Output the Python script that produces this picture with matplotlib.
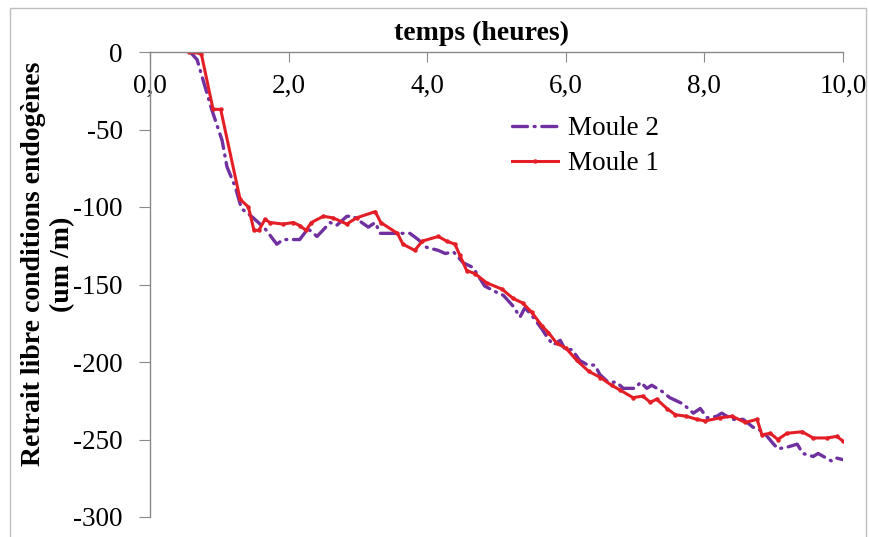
import matplotlib
matplotlib.use("Agg")
import matplotlib.pyplot as plt
from matplotlib.patches import Rectangle
from matplotlib.ticker import FuncFormatter

plt.rcParams["font.family"] = ["Liberation Serif", "DejaVu Serif"]

# Moule 1 (red, solid)
t1 = [0.56, 0.74, 0.91, 1.02, 1.30, 1.42, 1.50, 1.57, 1.66, 1.73, 1.92, 2.07, 2.16, 2.25,
      2.33, 2.50, 2.64, 2.84, 2.98, 3.25, 3.33, 3.57, 3.65, 3.82, 3.93, 4.16, 4.28, 4.40,
      4.47, 4.57, 4.69, 4.86, 5.08, 5.24, 5.38, 5.51, 5.66, 5.75, 5.87, 6.00, 6.16, 6.33,
      6.50, 6.66, 6.78, 6.97, 7.11, 7.22, 7.31, 7.46, 7.58, 7.74, 7.89, 8.01, 8.23, 8.40,
      8.59, 8.76, 8.83, 8.95, 9.06, 9.19, 9.41, 9.57, 9.77, 9.91, 10.0]
m1 = [0, -1, -37, -37, -95, -100, -115, -115, -108, -110, -111, -110, -112, -115,
      -110, -106, -107, -111, -107, -103, -110, -117, -124, -128, -122, -119, -122, -124,
      -131, -141, -143, -149, -153, -159, -162, -168, -177, -181, -188, -191, -199, -206,
      -210, -215, -218, -223, -222, -226, -224, -230, -234, -235, -237, -238, -236, -235,
      -239, -237, -247, -246, -250, -246, -245, -249, -249, -248, -251]

# Moule 2 (purple, dash-dot)
t2 = [0.58, 0.68, 0.89, 1.04, 1.11, 1.23, 1.32, 1.49, 1.66, 1.83, 1.92, 2.16, 2.28, 2.41,
      2.60, 2.69, 2.84, 2.93, 3.15, 3.25, 3.32, 3.46, 3.75, 3.87, 3.99, 4.16, 4.26, 4.38,
      4.52, 4.66, 4.83, 5.00, 5.10, 5.24, 5.34, 5.41, 5.51, 5.66, 5.73, 5.82, 5.92, 5.99,
      6.09, 6.20, 6.32, 6.42, 6.49, 6.61, 6.73, 6.83, 7.00, 7.08, 7.17, 7.24, 7.39, 7.50,
      7.69, 7.84, 7.94, 8.04, 8.18, 8.25, 8.40, 8.56, 8.70, 8.85, 8.98, 9.06, 9.19, 9.34,
      9.42, 9.57, 9.64, 9.84, 9.91, 10.0]
m2 = [0, -5, -37, -57, -74, -87, -101, -107, -114, -124, -121, -121, -114, -119,
      -110, -112, -106, -106, -113, -110, -117, -117, -117, -121, -126, -128, -130, -129,
      -136, -139, -151, -155, -157, -164, -171, -165, -170, -179, -184, -189, -186, -192,
      -192, -199, -202, -202, -208, -213, -213, -217, -217, -213, -217, -215, -219, -223,
      -227, -233, -230, -236, -235, -233, -237, -237, -242, -245, -252, -256, -255, -253,
      -259, -261, -259, -264, -262, -263]

x_ticks = [0, 2, 4, 6, 8, 10]
y_ticks = [0, -50, -100, -150, -200, -250, -300]

purple = "#7030A0"
red = "#E41E26"
grey = "#898989"

fig = plt.figure(figsize=(8.69, 5.37), dpi=100)
ax = fig.add_axes([150 / 869, 1 - 517 / 537, (843 - 150) / 869, (517 - 52) / 537])

ax.plot(t2, m2, color=purple, lw=2.4, linestyle=(0, (4.5, 2, 0.3, 2)),
        dash_capstyle="round", label="Moule 2")
ax.plot(t1, m1, color=red, lw=2.2, marker="o", ms=2.2, label="Moule 1")

ax.set_xlim(0, 10)
ax.set_ylim(-300, 0)
ax.set_xticks(x_ticks)
ax.set_yticks(y_ticks)
ax.xaxis.set_major_formatter(FuncFormatter(lambda v, p: f"{v:.1f}".replace(".", ",")))
ax.yaxis.set_major_formatter(FuncFormatter(lambda v, p: f"{v:.0f}"))

for s in ["right", "bottom"]:
    ax.spines[s].set_visible(False)
for s in ["left", "top"]:
    ax.spines[s].set_color(grey)
    ax.spines[s].set_linewidth(1.0)

ax.tick_params(axis="x", top=True, bottom=False, labeltop=True, labelbottom=False,
               direction="in", length=7, color=grey, labelsize=19.5, pad=-33.5)
ax.tick_params(axis="y", direction="out", length=8, color=grey, labelsize=19.5, pad=11.5)

fig.text(482 / 869, 1 - 33 / 537, "temps (heures)", ha="center", va="center",
         fontsize=20, fontweight="bold")
fig.text(48 / 869, 1 - 264 / 537, "Retrait libre conditions endogènes\n(um /m)",
         ha="center", va="center", rotation=90, fontsize=20, fontweight="bold",
         linespacing=1.2)

ax.legend(loc="upper left", bbox_to_anchor=(512 / 869, 1 - 116 / 537),
          bbox_transform=fig.transFigure, frameon=False, fontsize=19.5,
          handlelength=1.7, handletextpad=0.37, labelspacing=0.38, borderpad=0,
          borderaxespad=0)

fig.patches.append(Rectangle((10 / 869, -0.02), 856 / 869, 1.02 - 8 / 537,
                             transform=fig.transFigure, fill=False,
                             edgecolor="#BFBFBF", lw=1.0))

fig.savefig("out.png", dpi=100)
